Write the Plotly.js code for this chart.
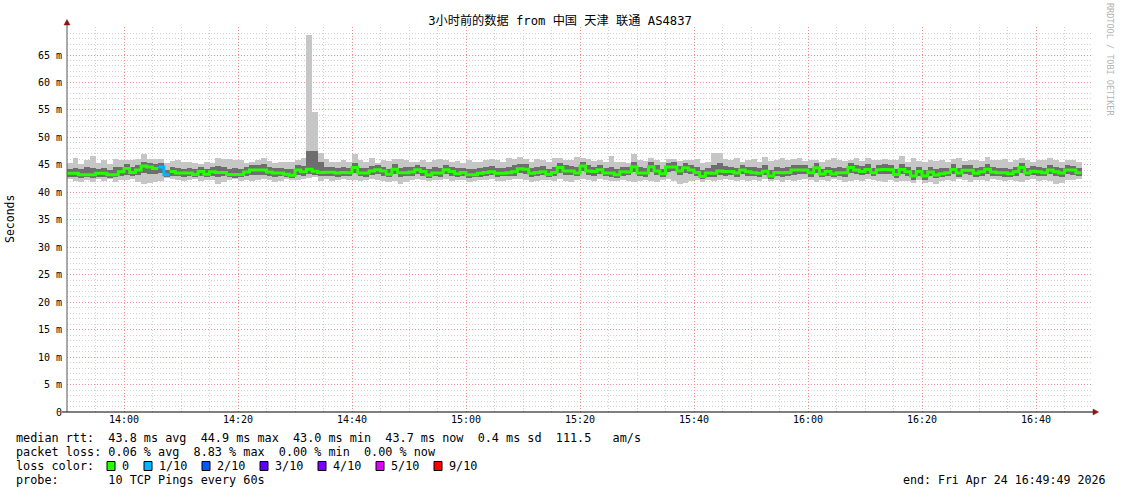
<!DOCTYPE html>
<html><head><meta charset="utf-8">
<script src="https://cdn.plot.ly/plotly-3.0.1.min.js"></script>
<style>html,body{margin:0;padding:0;background:#fff;}#chart{width:1121px;height:494px;}</style>
</head><body><div id="chart"></div>
<script>
// ---- data (one value per minute, starting 13:50) ----
const startTime = '2026-04-24 13:50:00';
const median = [
43.45,43.45,43.2,43.2,43.2,43.45,43.45,43.2,43.2,43.75,
44.35,43.6,44.05,44.8,44.6,44.35,44.6,43.2,43.8,43.5,
43.5,43.5,43.25,43.8,43.3,43.75,43.6,43.6,43.25,43.25,
43.25,43.7,44.05,44.05,44.05,43.7,43.5,43.5,43.3,43.1,
44.05,43.75,44.2,43.85,43.6,43.65,43.65,43.5,43.6,43.55,
44.5,43.5,43.5,43.9,44.1,43.9,43.3,44.2,43.55,43.55,
43.7,44.1,43.8,43.15,43.5,43.5,44.1,43.8,43.4,43.6,
43.2,43.2,43.45,43.6,43.75,43.45,43.45,43.55,43.75,44.3,
44.2,43.45,43.6,43.75,43.3,43.6,44.5,43.9,43.9,43.5,
44.8,43.9,43.8,44.1,43.5,43.5,43.2,43.75,43.7,44.65,
43.5,43.5,44.65,43.9,43.4,44.6,44.6,43.9,44.45,44.05,
43.6,42.9,43.5,43.45,43.9,43.8,43.8,43.5,44.05,43.75,
43.55,43.45,43.85,42.95,43.6,43.55,43.6,44.05,44.05,44.05,
43.55,44.45,43.35,43.8,43.35,43.55,43.55,44.5,44.05,43.8,
44.15,43.55,44.1,44.15,44.1,43.25,44.15,43.75,42.95,43.8,
42.95,43.7,43.15,43.4,43.55,44.15,43.5,44.0,44.0,43.45,
43.75,44.2,43.7,43.55,43.55,43.4,43.75,44.5,43.5,43.85,
43.75,43.55,44.05,43.75,43.5,44.05,44.05,43.55];
// loss per minute in tenths (0 = no loss)
const loss = [
0,0,0,0,0,0,0,0,0,0, 0,0,0,0,0,0,1,1,0,0, 0,0,0,0,0,0,0,0,0,0,
0,0,0,0,0,0,0,0,0,0, 0,0,0,0,0,0,0,0,0,0, 0,0,0,0,0,0,0,0,0,0,
0,0,0,0,0,0,0,0,0,0, 0,0,0,0,0,0,0,0,0,0, 0,0,0,0,0,0,0,0,0,0,
0,0,0,0,0,0,0,0,0,0, 0,0,0,0,0,0,0,0,0,0, 0,0,0,0,0,0,0,0,0,0,
0,0,0,0,0,0,0,0,0,0, 0,0,0,0,0,0,0,0,0,0, 0,0,0,0,0,0,0,0,0,0,
0,0,0,0,0,0,0,0,0,0, 0,0,0,0,0,0,0,0,0,0, 0,0,0,0,0,0,0,0];
const pingMax = [
45.4,46.3,45.2,45.9,46.6,45.3,45.8,45.1,46.0,45.9,
45.8,45.9,46.0,47.0,46.0,46.0,46.0,45.4,45.7,45.9,
45.5,45.5,45.4,45.2,45.6,45.4,46.2,46.1,46.1,45.9,
45.9,45.3,45.6,45.8,46.3,45.7,45.4,45.6,45.5,45.5,
45.8,46.2,68.6,54.6,47.1,46.0,45.6,45.5,45.8,45.5,
47.0,45.8,45.6,46.2,45.4,45.9,45.7,46.0,46.1,45.9,
45.6,45.5,45.8,45.6,45.9,46.1,45.8,45.6,45.7,45.4,
45.9,45.6,45.5,45.8,46.0,45.8,45.5,46.3,46.0,46.4,
46.0,45.6,46.0,45.9,45.6,46.3,46.2,45.8,45.9,46.5,
46.3,46.0,45.7,45.8,45.6,46.6,45.5,45.6,45.3,47.0,
45.9,45.7,46.3,45.9,45.6,46.1,46.0,45.7,45.8,45.9,
46.1,45.3,45.5,47.2,47.2,46.0,45.9,46.3,45.6,45.8,
46.1,45.6,46.4,45.7,45.9,46.2,45.8,46.0,46.2,45.7,
45.9,45.8,45.6,45.8,46.3,45.8,45.7,45.8,46.3,45.7,
46.2,45.8,45.9,46.1,45.8,45.8,46.6,45.6,46.2,45.7,
45.6,45.9,45.7,45.8,45.5,46.0,46.2,45.7,45.8,45.9,
45.7,46.5,45.9,45.8,46.0,45.6,45.8,46.2,45.9,45.6,
45.9,45.8,46.2,45.9,45.6,45.9,45.8,45.5];
const pingMin = [
42.4,42.0,41.9,42.3,41.8,42.4,42.0,42.5,41.9,42.3,
42.2,42.4,41.8,41.6,41.7,41.8,42.0,42.6,42.4,42.2,
42.1,42.3,42.5,42.0,42.2,42.3,41.5,41.8,42.2,42.5,
42.1,42.3,42.0,42.2,42.4,42.3,41.9,42.1,42.4,42.3,
42.2,42.5,42.6,42.7,42.1,42.4,42.0,42.3,42.5,42.2,
42.3,42.0,42.2,42.4,42.3,42.0,41.9,42.1,41.6,41.8,
42.2,42.4,42.3,42.0,42.2,42.3,42.5,42.1,42.3,42.2,
41.9,42.1,42.3,42.2,42.4,42.1,42.0,42.2,42.4,42.5,
42.2,41.9,42.1,42.3,42.2,42.1,42.4,42.0,41.9,42.2,
42.5,42.3,42.1,42.4,42.2,42.0,42.1,42.3,42.0,41.8,
42.1,42.3,42.0,41.9,42.2,42.4,42.1,41.6,41.7,42.0,
42.2,41.9,42.3,42.1,42.2,42.4,42.3,42.1,42.2,42.0,
42.3,42.1,42.4,42.0,42.2,41.9,42.3,42.1,42.2,42.4,
42.2,41.9,42.3,42.1,42.4,42.2,41.8,42.1,42.3,42.0,
42.4,42.2,42.1,41.9,42.3,41.8,42.1,42.0,41.7,42.2,
41.7,41.9,41.6,42.0,42.2,42.1,42.4,42.3,41.9,42.2,
42.3,42.1,42.4,42.2,42.0,42.3,42.1,41.9,42.2,42.4,
42.1,42.3,42.0,41.6,41.7,42.2,42.3,42.4];
const innerLow = [
42.8,42.7,42.6,42.7,42.6,42.8,42.7,42.6,42.7,43.0,
43.2,42.9,43.1,43.6,43.4,43.3,43.5,42.7,43.0,42.9,
42.8,42.9,42.7,43.0,42.8,42.9,42.8,42.9,42.7,42.6,
42.8,43.0,43.2,43.1,43.2,43.0,42.8,42.9,42.7,42.6,
43.2,43.0,43.3,43.1,43.0,42.9,43.0,42.8,42.9,43.0,
43.5,42.9,42.8,43.1,43.3,43.0,42.7,43.3,42.8,42.9,
43.0,43.3,43.0,42.6,42.9,42.8,43.3,43.0,42.8,42.9,
42.6,42.7,42.8,43.0,43.1,42.8,42.9,42.9,43.0,43.5,
43.4,42.8,43.0,43.1,42.7,42.9,43.6,43.2,43.1,42.9,
43.8,43.2,43.0,43.3,42.9,42.8,42.6,43.0,43.1,43.7,
42.9,42.8,43.7,43.1,42.7,43.7,43.8,43.2,43.5,43.3,
42.9,42.4,42.8,42.7,43.2,43.0,43.1,42.8,43.3,43.0,
42.9,42.8,43.1,42.4,42.9,42.8,43.0,43.2,43.3,43.3,
42.8,43.5,42.7,43.0,42.7,42.9,42.8,43.6,43.3,43.1,
43.4,42.9,43.3,43.4,43.3,42.6,43.4,43.0,42.3,43.0,
42.3,43.0,42.6,42.8,42.9,43.4,42.8,43.3,43.2,42.8,
43.0,43.4,43.0,42.9,42.8,42.7,43.0,43.6,42.9,43.1,
43.0,42.9,43.3,43.0,42.8,43.3,43.2,42.9];
const innerHigh = [
44.3,44.5,44.2,44.6,44.4,44.2,44.5,44.1,44.6,44.7,
45.1,44.6,44.9,45.5,45.3,45.2,45.4,44.1,44.6,44.5,
44.3,44.4,44.2,44.6,44.3,44.7,44.8,44.6,44.3,44.4,
44.2,44.6,45.0,44.9,45.1,44.6,44.4,44.5,44.3,44.2,
45.0,44.8,47.5,47.5,45.6,44.7,44.6,44.4,44.6,44.4,
45.4,44.5,44.4,44.8,45.0,44.7,44.3,45.1,44.5,44.6,
44.6,45.0,44.7,44.3,44.6,44.5,45.0,44.7,44.4,44.5,
44.3,44.2,44.5,44.6,44.8,44.4,44.5,44.6,44.9,45.2,
45.1,44.4,44.6,44.8,44.3,44.7,45.4,44.9,44.8,44.6,
45.6,44.9,44.7,45.0,44.5,44.6,44.2,44.7,44.6,45.6,
44.6,44.4,45.5,44.9,44.3,45.4,45.5,44.8,45.3,45.0,
44.6,44.0,44.5,44.9,45.3,44.8,44.7,44.5,45.0,44.7,
44.6,44.4,44.9,44.1,44.6,44.5,44.6,45.0,45.0,44.9,
44.5,45.3,44.3,44.7,44.4,44.6,44.5,45.4,45.0,44.8,
45.1,44.5,45.0,45.1,45.0,44.3,45.2,44.7,44.0,44.6,
44.0,44.6,44.2,44.4,44.5,45.1,44.5,44.9,44.9,44.4,
44.7,45.2,44.6,44.5,44.5,44.3,44.7,45.4,44.5,44.8,
44.7,44.5,45.0,44.7,44.4,44.9,44.8,44.5];
const yTickVals = [0,5,10,15,20,25,30,35,40,45,50,55,60,65];
const yTickText = ['0','5 m','10 m','15 m','20 m','25 m','30 m','35 m','40 m','45 m','50 m','55 m','60 m','65 m'];
const lossLabels = ['0','1/10','2/10','3/10','4/10','5/10','9/10'];
const lossColors = ['#26ff00','#00b8ff','#0059ff','#5e00ff','#7e00ff','#dd00ff','#ff0000'];
const statLines = [
  'median rtt:  43.8 ms avg  44.9 ms max  43.0 ms min  43.7 ms now  0.4 ms sd  111.5   am/s',
  'packet loss: 0.06 % avg  8.83 % max  0.00 % min  0.00 % now',
  'loss color:',
  'probe:       10 TCP Pings every 60s'];
const endText = 'end: Fri Apr 24 16:49:49 2026';
const titleText = '3小时前的数据 from 中国 天津 联通 AS4837';

// ---- helpers ----
const MIN = 60000;
const T0 = Date.parse(startTime.replace(' ','T') + 'Z');
function tm(i){ return new Date(T0 + i*MIN).toISOString().slice(0,19).replace('T',' '); }
const L=67, R=1093, TOP=27, BOT=412;
function px(X){ return (X-L)/(R-L); }
function py(Y){ return (BOT-Y)/(BOT-TOP); }
function nb(s){ return s.replace(/ /g,'\u00a0'); }
const MONO = 'DejaVu Sans Mono, Noto Sans CJK SC, monospace';

const n = median.length;
const xs = median.map((_,i)=>tm(i));

const traces = [];
traces.push({type:'bar', x:xs, base:pingMin, y:pingMax.map((v,i)=>v-pingMin[i]),
  width:MIN, offset:0, marker:{color:'#c6c6c6', line:{width:0}}, hoverinfo:'skip'});
traces.push({type:'bar', x:xs, base:innerLow, y:innerHigh.map((v,i)=>v-innerLow[i]),
  width:MIN, offset:0, marker:{color:'#6e6e6e', line:{width:0}}, hoverinfo:'skip'});
// median step lines, one trace per loss level present
const levels = [...new Set(loss)];
levels.sort();
levels.forEach(lv=>{
  const x=[], y=[];
  for(let i=0;i<n;i++){
    if(loss[i]===lv){
      x.push(tm(i)); y.push(median[i]);
      if(i===n-1 || loss[i+1]!==lv){ x.push(tm(i+1)); y.push(median[i]); x.push(null); y.push(null); }
    }
  }
  traces.push({type:'scatter', mode:'lines', x:x, y:y, line:{shape:'hv', width:3, color:lossColors[lv]},
    connectgaps:false, hoverinfo:'skip'});
});

const ann = [];
ann.push({text:'Seconds', textangle:-90, xref:'paper', yref:'paper', x:px(10), y:py(219),
  showarrow:false, font:{family:MONO, size:11.5, color:'#000'}, xanchor:'center', yanchor:'middle'});
ann.push({text:nb('RRDTOOL / TOBI OETIKER'), textangle:90, xref:'paper', yref:'paper', x:px(1110), y:py(59),
  showarrow:false, font:{family:MONO, size:8.5, color:'#b4b4b4'}, xanchor:'center', yanchor:'middle'});
const lineY = [438,452,466,480];
statLines.forEach((s,k)=>{
  ann.push({text:nb(s), xref:'paper', yref:'paper', x:px(15), y:py(lineY[k]), showarrow:false, borderpad:0,
    xanchor:'left', yanchor:'middle', font:{family:MONO, size:11.8, color:'#000'}});
});
ann.push({text:nb(endText), xref:'paper', yref:'paper', x:px(1106), y:py(480), showarrow:false, borderpad:0,
  xanchor:'right', yanchor:'middle', font:{family:MONO, size:11.6, color:'#000'}});

const shapes = [];
const boxX = [107,144,202,260,318,376,434];
lossLabels.forEach((lab,k)=>{
  shapes.push({type:'rect', xref:'paper', yref:'paper', x0:px(boxX[k]), x1:px(boxX[k]+8),
    y0:py(470.5), y1:py(461.5), fillcolor:lossColors[k], line:{color:'#000', width:1}});
  ann.push({text:lab, xref:'paper', yref:'paper', x:px(boxX[k]+14), y:py(466), showarrow:false, borderpad:0,
    xanchor:'left', yanchor:'middle', font:{family:MONO, size:11.8, color:'#000'}});
});
// axis lines + arrows
shapes.push({type:'line', xref:'paper', yref:'paper', x0:px(67), x1:px(67), y0:py(412), y1:py(24),
  line:{color:'#555', width:1}});
shapes.push({type:'line', xref:'paper', yref:'paper', x0:px(62), x1:px(1094), y0:py(412), y1:py(412),
  line:{color:'#000', width:1}});
shapes.push({type:'path', xref:'paper', yref:'paper',
  path:`M ${px(64)} ${py(25)} L ${px(70)} ${py(25)} L ${px(67)} ${py(19.5)} Z`,
  fillcolor:'#8b1414', line:{color:'#8b1414', width:0.5}});
shapes.push({type:'path', xref:'paper', yref:'paper',
  path:`M ${px(1093)} ${py(409)} L ${px(1093)} ${py(415)} L ${px(1098.5)} ${py(412)} Z`,
  fillcolor:'#8b1414', line:{color:'#8b1414', width:0.5}});

const layout = {
  width:1121, height:494,
  margin:{l:67, r:28, t:27, b:82, pad:0},
  paper_bgcolor:'#fff', plot_bgcolor:'#fff',
  showlegend:false, barmode:'overlay', bargap:0,
  font:{family:MONO, color:'#000'},
  title:{text:titleText, x:560/1121, y:1-21/494, xref:'container', yref:'container',
    xanchor:'center', yanchor:'middle', font:{family:MONO, size:12.2, color:'#000'}},
  xaxis:{type:'date', range:[tm(0), tm(180)], tickformat:'%H:%M', dtick:20*MIN, tick0:tm(10),
    showgrid:true, gridcolor:'#f09090', griddash:'1px,2px', gridwidth:1,
    minor:{dtick:5*MIN, tick0:tm(10), showgrid:true, gridcolor:'#d2d2d2', griddash:'1px,2px', ticks:''},
    showline:false, zeroline:false, ticks:'', tickfont:{family:MONO, size:10, color:'#000'},
    fixedrange:true},
  yaxis:{range:[0,70.1], tickvals:yTickVals, ticktext:yTickText,
    showgrid:true, gridcolor:'#f09090', griddash:'1px,2px', gridwidth:1,
    minor:{dtick:1, showgrid:true, gridcolor:'#d2d2d2', griddash:'1px,2px', ticks:''},
    showline:false, zeroline:false, ticks:'', ticklabelstandoff:4,
    tickfont:{family:MONO, size:10, color:'#000'}, fixedrange:true},
  shapes:shapes, annotations:ann
};
Plotly.newPlot('chart', traces, layout, {staticPlot:true, displayModeBar:false});
</script></body></html>
